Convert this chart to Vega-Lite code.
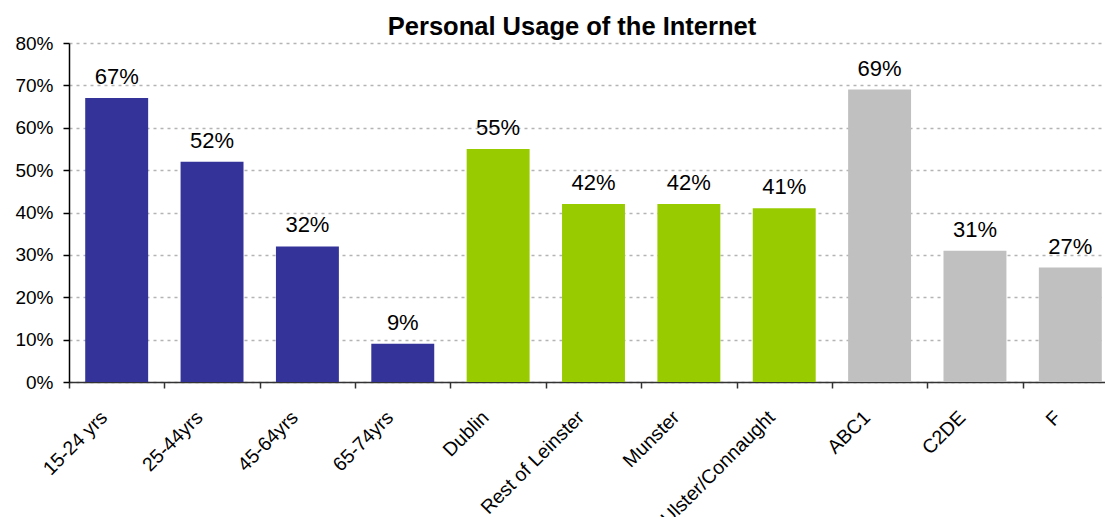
{
  "$schema": "https://vega.github.io/schema/vega-lite/v6.json",
  "autosize": "none",
  "width": 1036,
  "height": 339,
  "padding": {"left": 69, "top": 43, "right": 0, "bottom": 135},
  "background": "white",
  "config": {
    "font": "Liberation Sans",
    "view": {"stroke": null}
  },
  "title": {
    "text": "Personal Usage of the Internet",
    "font": "Liberation Sans",
    "fontSize": 25.5,
    "fontWeight": "bold",
    "color": "black",
    "anchor": "middle",
    "dx": -15,
    "dy": 9,
    "offset": 3
  },
  "data": {
    "values": [
      {"category": "15-24 yrs", "value": 0.67, "group": "Age"},
      {"category": "25-44yrs", "value": 0.52, "group": "Age"},
      {"category": "45-64yrs", "value": 0.32, "group": "Age"},
      {"category": "65-74yrs", "value": 0.09, "group": "Age"},
      {"category": "Dublin", "value": 0.55, "group": "Region"},
      {"category": "Rest of Leinster", "value": 0.42, "group": "Region"},
      {"category": "Munster", "value": 0.42, "group": "Region"},
      {"category": "Ulster/Connaught", "value": 0.41, "group": "Region"},
      {"category": "ABC1", "value": 0.69, "group": "Class"},
      {"category": "C2DE", "value": 0.31, "group": "Class"},
      {"category": "F", "value": 0.27, "group": "Class"}
    ]
  },
  "encoding": {
    "x": {
      "field": "category",
      "type": "nominal",
      "sort": null,
      "scale": {"paddingInner": 0, "paddingOuter": 0, "range": [0, 1049]},
      "axis": {
        "title": null,
        "tickBand": "extent",
        "labelAngle": -45,
        "labelAlign": "right",
        "labelBaseline": "middle",
        "labelFont": "Liberation Sans",
        "labelFontSize": 19.5,
        "labelColor": "black",
        "labelPadding": 26,
        "labelOffset": -13,
        "labelBound": false,
        "labelOverlap": false,
        "domainColor": "#333333",
        "domainWidth": 1.5,
        "tickColor": "#333333",
        "tickSize": 6,
        "tickWidth": 1.5,
        "grid": false
      }
    },
    "y": {
      "field": "value",
      "type": "quantitative",
      "scale": {"domain": [0, 0.8], "nice": false},
      "axis": {
        "title": null,
        "format": ".0%",
        "values": [0, 0.1, 0.2, 0.3, 0.4, 0.5, 0.6, 0.7, 0.8],
        "labelFont": "Liberation Sans",
        "labelFontSize": 19,
        "labelColor": "black",
        "labelPadding": 10,
        "domainColor": "black",
        "domainWidth": 1.5,
        "tickColor": "black",
        "tickSize": 6,
        "tickWidth": 1.5,
        "grid": true,
        "gridColor": "#b4b4b4",
        "gridDash": [3, 4],
        "gridWidth": 1.5
      }
    }
  },
  "layer": [
    {
      "mark": {"type": "bar", "width": {"band": 0.66}},
      "encoding": {
        "color": {
          "field": "group",
          "type": "nominal",
          "scale": {"domain": ["Age", "Region", "Class"], "range": ["#333399", "#99CC00", "#C0C0C0"]},
          "legend": null
        }
      }
    },
    {
      "mark": {"type": "text", "baseline": "alphabetic", "dy": -14, "fontSize": 22, "font": "Liberation Sans", "color": "black"},
      "encoding": {
        "text": {"field": "value", "type": "quantitative", "format": ".0%"}
      }
    }
  ]
}
